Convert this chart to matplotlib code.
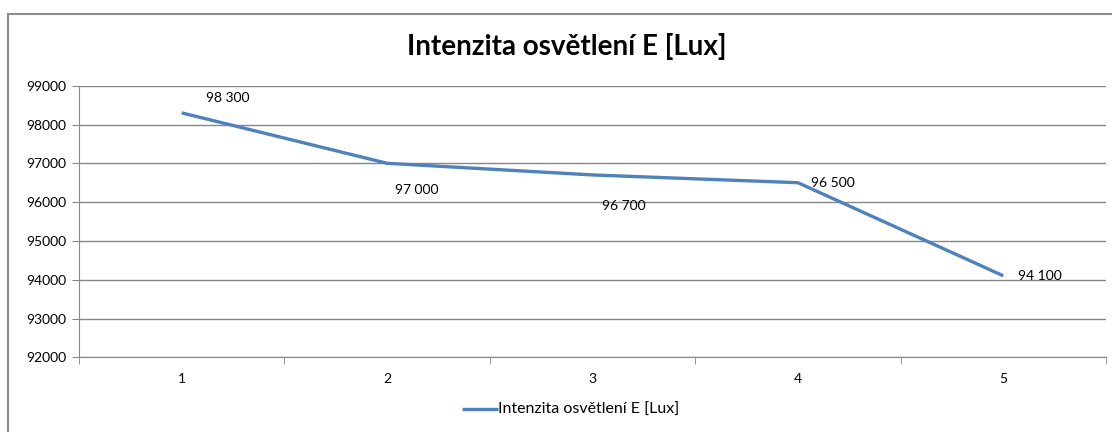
import matplotlib.pyplot as plt
from matplotlib.patches import Rectangle

categories = ["1", "2", "3", "4", "5"]
values = [98300, 97000, 96700, 96500, 94100]
labels = ["98 300", "97 000", "96 700", "96 500", "94 100"]
# label offsets in pixels (dx, dy) as placed in the original
offsets = [(24, 15), (8, -27), (10, -31), (13, 0), (15, 0)]

plt.rcParams['font.family'] = ['Lato', 'DejaVu Sans']

fig = plt.figure(figsize=(11.12, 4.32), dpi=100)
ax = fig.add_axes([79 / 1112, 1 - 357.3 / 432, (1106 - 79) / 1112, (357.3 - 85.7) / 432])

grey = "#868686"
x = list(range(len(categories)))
line, = ax.plot(x, values, color="#4F81BD", lw=2.4, solid_capstyle="butt",
                label="Intenzita osvětlení E [Lux]")

for xi, v, lab, (dx, dy) in zip(x, values, labels, offsets):
    ax.annotate(lab, xy=(xi, v), xytext=(dx * 0.72, dy * 0.72), textcoords="offset points",
                ha="left", va="center", fontsize=10, color="black")

ax.set_xlim(-0.5, len(categories) - 0.5)
ax.set_ylim(92000, 99000)
ax.set_yticks(range(92000, 99001, 1000))
ax.set_xticks(x)
ax.set_xticklabels(categories)
ax.set_xticks([i - 0.5 for i in range(len(categories) + 1)], minor=True)
ax.tick_params(axis="x", which="major", length=0, pad=11, labelsize=10)
ax.tick_params(axis="x", which="minor", length=5, color=grey, direction="out")
ax.tick_params(axis="y", length=5, color=grey, labelsize=10, pad=4)

ax.grid(True, axis="y", color=grey, lw=1)
ax.set_axisbelow(True)
for s in ["top", "right"]:
    ax.spines[s].set_visible(False)
ax.spines["left"].set_color(grey)
ax.spines["bottom"].set_color(grey)

fig.text(567 / 1112, 1 - 46 / 432, "Intenzita osvětlení E [Lux]", ha="center", va="center",
         fontsize=20, fontweight="bold")

fig.legend(handles=[line], loc="center", bbox_to_anchor=(571 / 1112, 1 - 410 / 432),
           frameon=False, fontsize=11.5, handlelength=2.2, handletextpad=0.05)

# outer chart border
fig.patches.append(Rectangle((8 / 1112, -0.05), 1.1, 1 - 14 / 432 + 0.05, transform=fig.transFigure,
                             fill=False, edgecolor="#8c8c8c", lw=1.5))

fig.savefig("out.png", dpi=100)
